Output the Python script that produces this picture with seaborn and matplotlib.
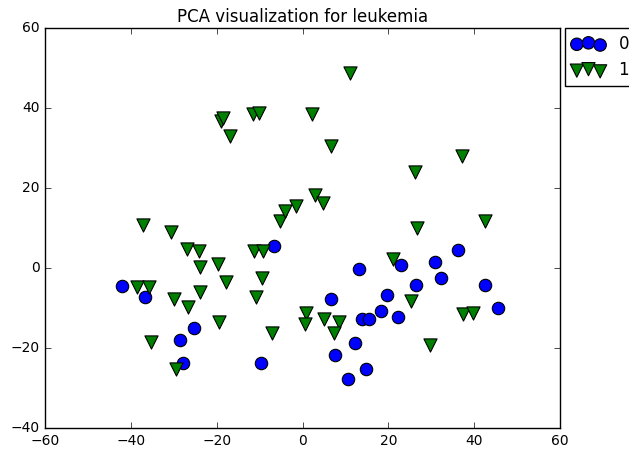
import matplotlib
matplotlib.use("Agg")
import matplotlib.pyplot as plt
import seaborn as sns
import pandas as pd

# class 0 points (PCA component 1, component 2)
pc1_class0 = [-42.0, -36.8, -28.5, -25.2, -27.8, -6.6, -9.6,
              13.2, 6.6, 23.0, 30.9, 36.2, 32.3, 26.4, 42.6, 45.5,
              19.6, 18.4, 13.9, 15.6, 22.3, 12.3, 7.6, 14.9, 10.6]
pc2_class0 = [-4.5, -7.2, -18.0, -15.0, -23.7, 5.6, -23.7,
              -0.3, -7.8, 0.8, 1.4, 4.4, -2.4, -4.3, -4.3, -10.1,
              -6.8, -10.8, -12.8, -12.8, -12.2, -18.7, -21.7, -25.2, -27.7]

# class 1 points
pc1_class1 = [-37.2, -30.6, -26.9, -24.2, -23.8, -19.8, -17.8, -38.6, -35.8,
              -23.8, -30.0, -26.7, -19.4, -35.3, -29.4, -11.2, -9.3, -9.4,
              -10.8, -7.0, -5.2, -4.0, -1.6, 0.8, 0.6,
              2.9, 4.8, 5.1, 8.4, 7.4, 26.6, 42.6, 21.2, 25.3, 37.3, 39.8, 29.8,
              11.1, -19.1, -18.5, -16.8, -11.6, -10.2, 2.2, 6.7, 37.2, 26.3]
pc2_class1 = [10.8, 8.9, 4.8, 4.3, 0.2, 1.0, -3.6, -4.7, -4.7,
              -6.1, -7.8, -9.8, -13.4, -18.5, -25.3, 4.3, 4.3, -2.6,
              -7.3, -16.2, 11.8, 14.2, 15.5, -11.3, -14.1,
              18.2, 16.2, -12.8, -13.4, -16.2, 9.9, 11.8, 2.2, -8.2, -11.6, -11.2, -19.2,
              48.8, 36.8, 37.4, 33.0, 38.4, 38.7, 38.4, 30.5, 28.0, 24.0]

df0 = pd.DataFrame({"pc1": pc1_class0, "pc2": pc2_class0})
df1 = pd.DataFrame({"pc1": pc1_class1, "pc2": pc2_class1})

plt.style.use("classic")
plt.rcParams["font.family"] = ["DejaVu Sans"]

fig = plt.figure(figsize=(6.29, 4.5), dpi=100, facecolor="white")
ax = fig.add_axes([45 / 629, 22 / 450, 515 / 629, 400 / 450])

sns.scatterplot(data=df0, x="pc1", y="pc2", ax=ax, color="b", marker="o",
                s=80, edgecolor="black", linewidth=0.8, label="0")
sns.scatterplot(data=df1, x="pc1", y="pc2", ax=ax, color="g", marker="v",
                s=90, edgecolor="black", linewidth=0.8, label="1")

ax.set_xlim(-60, 60)
ax.set_ylim(-40, 60)
ax.set_xlabel("")
ax.set_ylabel("")
ax.tick_params(labelsize=10)
ax.set_title("PCA visualization for leukemia", fontsize=12, pad=4)

ax.legend(loc="upper left", bbox_to_anchor=(1.01, 1.0), scatterpoints=3,
          scatteryoffsets=[0.375, 0.5, 0.3125], fontsize=12, borderaxespad=0)

fig.savefig("out.png", dpi=100, facecolor="white")
